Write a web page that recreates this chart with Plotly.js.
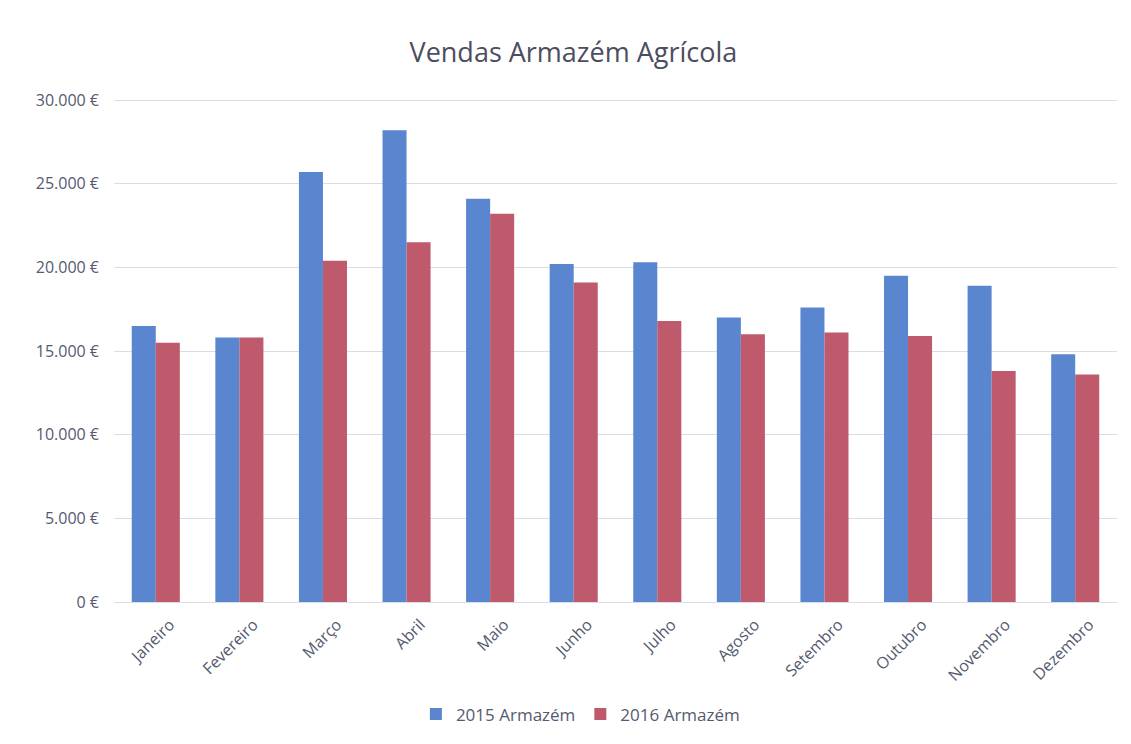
<!DOCTYPE html>
<html>
<head>
<meta charset="utf-8">
<script src="https://cdn.plot.ly/plotly-3.0.1.min.js"></script>
<style>html,body{margin:0;padding:0;background:#fff;}#chart{width:1131px;height:744px;}</style>
</head>
<body>
<div id="chart"></div>
<script>
const months = ["Janeiro","Fevereiro","Março","Abril","Maio","Junho","Julho","Agosto","Setembro","Outubro","Novembro","Dezembro"];
const sales2015 = [16500,15800,25700,28200,24100,20200,20300,17000,17600,19500,18900,14800];
const sales2016 = [15500,15800,20400,21500,23200,19100,16800,16000,16100,15900,13800,13600];
const seriesNames = ["2015 Armazém","2016 Armazém"];

const fontFam = "'Open Sans', sans-serif";
const txtCol = "#555a70";
const data = [
  {type:"bar", x:months, y:sales2015, name:seriesNames[0], marker:{color:"#5A86D0"}},
  {type:"bar", x:months, y:sales2016, name:seriesNames[1], marker:{color:"#BE5A6B"}}
];
const layout = {
  width:1131, height:744,
  margin:{l:114, r:14, t:95, b:139},
  paper_bgcolor:"#ffffff", plot_bgcolor:"#ffffff",
  separators:",.",
  font:{family:fontFam, color:txtCol, size:16},
  title:{text:"Vendas Armazém Agrícola", x:0.507, xanchor:"center", y:0.93, yanchor:"middle", font:{size:27, color:"#4d4d60", family:fontFam}},
  barmode:"group", bargap:0.425, bargroupgap:0,
  xaxis:{tickangle:-45, showgrid:false, zeroline:false, showline:true, linecolor:"#dcdce8", ticks:"", tickfont:{size:16, color:txtCol}, ticklabelshift:14, ticklabelstandoff:6},
  yaxis:{range:[0,30300], tick0:0, dtick:5000, tickformat:",.0f", ticksuffix:" €", showgrid:true, gridcolor:"#dcdce8", gridwidth:1, zeroline:false, ticks:"", tickfont:{size:16, color:txtCol}, ticklabelstandoff:14},
  legend:{orientation:"h", x:0.465, xanchor:"center", y:-0.222, yanchor:"middle", font:{size:17, color:txtCol}},
  showlegend:true
};
Plotly.newPlot("chart", data, layout, {displayModeBar:false, staticPlot:true});
</script>
</body>
</html>
